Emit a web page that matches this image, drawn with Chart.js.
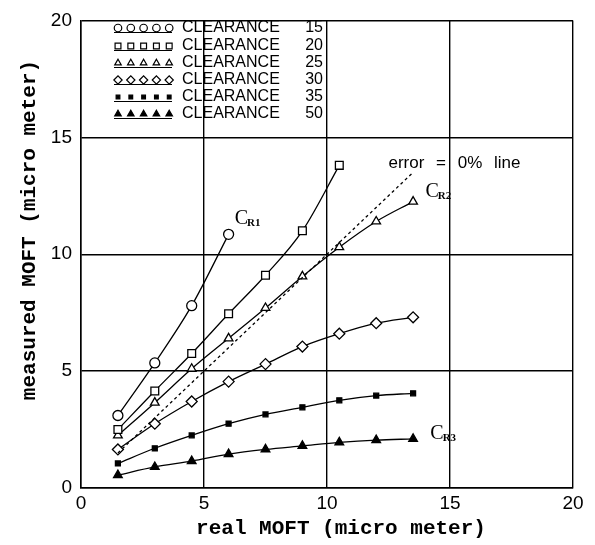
<!DOCTYPE html>
<html>
<head>
<meta charset="utf-8">
<script src="https://cdn.jsdelivr.net/npm/chart.js@4.4.1/dist/chart.umd.min.js"></script>
<style>
  html, body { margin:0; padding:0; background:#fff; }
  #chart { display:block; }
</style>
</head>
<body>
<canvas id="chart" width="595" height="545"></canvas>
<script>
// real MOFT (x) in micro meter
const realMoft = [1.5, 3, 4.5, 6, 7.5, 9, 10.5, 12, 13.5];

// measured MOFT (y) per clearance
const clearance15 = [3.1, 5.35, 7.8, 10.85];
const clearance20 = [2.5, 4.15, 5.75, 7.45, 9.1, 11.0, 13.8];
const clearance25 = [2.25, 3.65, 5.1, 6.4, 7.7, 9.05, 10.3, 11.4, 12.25];
const clearance30 = [1.65, 2.75, 3.7, 4.55, 5.3, 6.05, 6.6, 7.05, 7.3];
const clearance35 = [1.05, 1.7, 2.25, 2.75, 3.15, 3.45, 3.75, 3.95, 4.05];
const clearance50 = [0.55, 0.9, 1.15, 1.45, 1.65, 1.8, 1.95, 2.05, 2.1];

// error = 0% reference line (y = x)
const errorLineX = [1.5, 13.5];

const clearanceLabels = ["15", "20", "25", "30", "35", "50"];
const axisTicks = [0, 5, 10, 15, 20];

// curve labels: [text, subscript, x, y] in data units
const curveNotes = [
  ["C", "R1", 6.25, 11.3],
  ["C", "R2", 14.0, 12.45],
  ["C", "R3", 14.2, 2.1]
];
const errorNote = ["error = 0% line", 12.5, 13.7];

const toPoints = (ys) => ys.map((y, i) => ({ x: realMoft[i], y }));

const styles = [
  { pointStyle: "circle",   radius: 5,   fill: "#fff" },
  { pointStyle: "rect",     radius: 5.5, fill: "#fff" },
  { pointStyle: "triangle", radius: 5,   fill: "#fff" },
  { pointStyle: "rectRot",  radius: 5.5, fill: "#fff" },
  { pointStyle: "rect",     radius: 3.5, fill: "#000" },
  { pointStyle: "triangle", radius: 5,   fill: "#000" }
];
const series = [clearance15, clearance20, clearance25, clearance30, clearance35, clearance50];

const datasets = series.map((ys, i) => ({
  label: "CLEARANCE " + clearanceLabels[i],
  data: toPoints(ys),
  borderColor: "#000",
  borderWidth: 1.3,
  pointStyle: styles[i].pointStyle,
  pointRadius: styles[i].radius,
  pointBackgroundColor: styles[i].fill,
  pointBorderColor: "#000",
  pointBorderWidth: 1.3,
  cubicInterpolationMode: "monotone",
  fill: false
}));

datasets.unshift({
  label: "error = 0% line",
  data: errorLineX.map(v => ({ x: v, y: v })),
  borderColor: "#000",
  borderWidth: 1.3,
  borderDash: [3, 3],
  pointRadius: 0,
  fill: false
});

// legend, axis titles and curve notes
const annotate = {
  id: "annotate",
  afterDatasetsDraw(chart) {
    const { ctx, scales: { x, y } } = chart;
    ctx.save();

    // legend rows
    const rowY = [28, 46, 63, 80, 97, 114];
    styles.forEach((s, i) => {
      const cy = rowY[i];
      ctx.strokeStyle = "#000";
      ctx.lineWidth = 1;
      ctx.beginPath();
      ctx.moveTo(114, cy + 4.5);
      ctx.lineTo(172, cy + 4.5);
      ctx.stroke();
      for (let k = 0; k < 5; k++) {
        const cx = 118 + k * 12.8;
        ctx.fillStyle = s.fill;
        ctx.strokeStyle = "#000";
        ctx.lineWidth = 1.2;
        if (Chart.helpers && Chart.helpers.drawPoint) {
          Chart.helpers.drawPoint(ctx, {
            pointStyle: s.pointStyle,
            radius: s.radius * 0.75,
            rotation: 0,
            borderWidth: 1.2
          }, cx, cy);
        }
      }
      ctx.fillStyle = "#000";
      ctx.font = "16px 'Liberation Sans', Arial, sans-serif";
      ctx.textBaseline = "middle";
      ctx.textAlign = "left";
      ctx.fillText("CLEARANCE", 182, cy);
      ctx.textAlign = "right";
      ctx.fillText(clearanceLabels[i], 323, cy);
    });

    // curve labels
    ctx.textAlign = "left";
    ctx.textBaseline = "alphabetic";
    curveNotes.forEach(([c, sub, dx, dy]) => {
      const px = x.getPixelForValue(dx);
      const py = y.getPixelForValue(dy);
      ctx.font = "20px 'Liberation Serif', 'DejaVu Serif', serif";
      ctx.fillText(c, px, py);
      const w = ctx.measureText(c).width;
      ctx.font = "bold 11px 'Liberation Serif', 'DejaVu Serif', serif";
      ctx.fillText(sub, px + w - 1, py + 2);
    });

    // error line note
    ctx.font = "17px 'Liberation Sans', Arial, sans-serif";
    if ("wordSpacing" in ctx) ctx.wordSpacing = "7px";
    ctx.fillText(errorNote[0], x.getPixelForValue(errorNote[1]), y.getPixelForValue(errorNote[2]));
    if ("wordSpacing" in ctx) ctx.wordSpacing = "0px";

    // axis titles
    ctx.font = "bold 21px 'Liberation Mono', 'DejaVu Sans Mono', monospace";
    ctx.textAlign = "center";
    ctx.textBaseline = "middle";
    ctx.fillText("real MOFT (micro meter)", 341, 529);
    ctx.translate(30, 230);
    ctx.rotate(-Math.PI / 2);
    ctx.fillText("measured MOFT (micro meter)", 0, 0);

    ctx.restore();
  }
};

const tickFont = { family: "'Liberation Sans', Arial, sans-serif", size: 19 };

new Chart(document.getElementById("chart"), {
  type: "line",
  data: { datasets },
  options: {
    responsive: false,
    animation: false,
    layout: { padding: { left: 0, top: 15, right: 22, bottom: 0 } },
    plugins: {
      legend: { display: false },
      tooltip: { enabled: false }
    },
    scales: {
      x: {
        type: "linear",
        min: axisTicks[0],
        max: axisTicks[axisTicks.length - 1],
        afterBuildTicks: (s) => { s.ticks = axisTicks.map(v => ({ value: v })); },
        afterFit: (s) => { s.height = 57; },
        ticks: { color: "#000", font: tickFont, padding: 4, maxRotation: 0 },
        grid: { color: "#000", lineWidth: 1.4, drawTicks: false },
        border: { color: "#000", width: 1.5 }
      },
      y: {
        type: "linear",
        min: axisTicks[0],
        max: axisTicks[axisTicks.length - 1],
        afterBuildTicks: (s) => { s.ticks = axisTicks.map(v => ({ value: v })); },
        afterFit: (s) => { s.width = 81; },
        ticks: { color: "#000", font: tickFont, padding: 9 },
        grid: { color: "#000", lineWidth: 1.4, drawTicks: false },
        border: { color: "#000", width: 1.5 }
      }
    }
  },
  plugins: [annotate]
});
</script>
</body>
</html>
